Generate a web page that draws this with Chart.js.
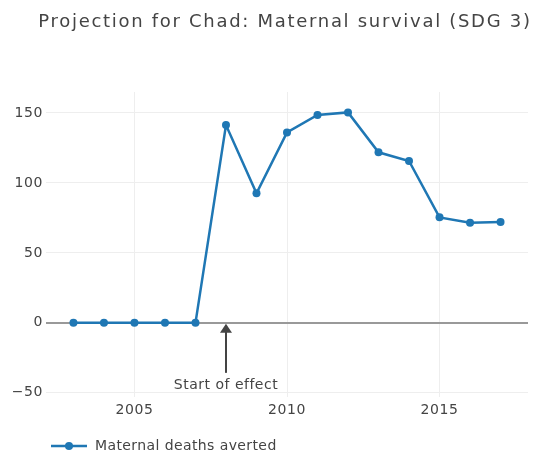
<!DOCTYPE html>
<html>
<head>
<meta charset="utf-8">
<script src="https://cdn.jsdelivr.net/npm/chart.js@4"></script>
<style>
  html, body { margin: 0; padding: 0; background: #fff; }
  #wrap { width: 537px; height: 456px; position: relative; }
</style>
</head>
<body>
<div id="wrap"><canvas id="chart"></canvas></div>
<script>
// Chart data
const years = [2003, 2004, 2005, 2006, 2007, 2008, 2009, 2010, 2011, 2012, 2013, 2014, 2015, 2016, 2017];
const deathsAverted = [0, 0, 0, 0, 0, 141.4, 92.6, 136.1, 148.6, 150.4, 121.9, 115.7, 75.4, 71.6, 72.1];
const xTicks = [2005, 2010, 2015];
const yTicks = [-50, 0, 50, 100, 150];

const titleText = 'Projection for Chad: Maternal survival (SDG 3)';
const seriesLabel = 'Maternal deaths averted';
const annotationYear = 2008;
const annotationText = 'Start of effect';

const FONT = '"DejaVu Sans", Verdana, sans-serif';
const TEXT = '#444';
const BLUE = '#1f77b4';

// wider letter spacing, closer to the Verdana look of the original
const spacingPlugin = {
    id: 'spacing',
    beforeDraw(chart) {
        chart.ctx.letterSpacing = '0.6px';
    }
};

// title, annotation arrow and legend drawn on top of the chart
const extrasPlugin = {
    id: 'extras',
    afterDraw(chart) {
        const ctx = chart.ctx;
        const xs = chart.scales.x;
        const ys = chart.scales.y;
        ctx.save();

        // title
        ctx.fillStyle = TEXT;
        ctx.font = '18px ' + FONT;
        ctx.letterSpacing = '1.7px';
        ctx.textAlign = 'center';
        ctx.textBaseline = 'middle';
        ctx.fillText(titleText, 285, 22);

        // annotation arrow
        const ax = xs.getPixelForValue(annotationYear);
        const ay = ys.getPixelForValue(0) + 1;
        ctx.strokeStyle = TEXT;
        ctx.fillStyle = TEXT;
        ctx.lineWidth = 2;
        ctx.beginPath();
        ctx.moveTo(ax, ay + 49);
        ctx.lineTo(ax, ay + 7);
        ctx.stroke();
        ctx.beginPath();
        ctx.moveTo(ax, ay);
        ctx.lineTo(ax - 6, ay + 9);
        ctx.lineTo(ax + 6, ay + 9);
        ctx.closePath();
        ctx.fill();
        ctx.font = '14px ' + FONT;
        ctx.letterSpacing = '0.5px';
        ctx.fillText(annotationText, ax, ay + 62);

        // legend
        const ly = 446;
        ctx.strokeStyle = BLUE;
        ctx.fillStyle = BLUE;
        ctx.lineWidth = 2.5;
        ctx.beginPath();
        ctx.moveTo(51, ly);
        ctx.lineTo(87, ly);
        ctx.stroke();
        ctx.beginPath();
        ctx.arc(69, ly, 4, 0, Math.PI * 2);
        ctx.fill();
        ctx.fillStyle = TEXT;
        ctx.font = '14px ' + FONT;
        ctx.letterSpacing = '0.4px';
        ctx.textAlign = 'left';
        ctx.fillText(seriesLabel, 95, ly);

        ctx.restore();
    }
};

new Chart(document.getElementById('chart'), {
    type: 'line',
    data: {
        labels: years,
        datasets: [{
            label: seriesLabel,
            data: years.map((y, i) => ({ x: y, y: deathsAverted[i] })),
            borderColor: BLUE,
            backgroundColor: BLUE,
            borderWidth: 2.5,
            pointRadius: 4,
            pointBorderWidth: 0,
            pointHoverRadius: 4,
            tension: 0
        }]
    },
    options: {
        responsive: true,
        maintainAspectRatio: false,
        animation: false,
        layout: { padding: { top: 92, right: 9, bottom: 0, left: 0 } },
        plugins: {
            legend: { display: false },
            title: { display: false },
            tooltip: { enabled: false }
        },
        scales: {
            x: {
                type: 'linear',
                min: 2002.1,
                max: 2017.9,
                afterBuildTicks: axis => { axis.ticks = xTicks.map(v => ({ value: v })); },
                afterFit: axis => { axis.height = 59; },
                border: { display: false },
                grid: { color: '#eeeeee', lineWidth: 1, drawTicks: false },
                ticks: {
                    color: TEXT,
                    font: { family: FONT, size: 14 },
                    padding: 5,
                    maxRotation: 0,
                    callback: v => String(v)
                }
            },
            y: {
                min: -53,
                max: 165,
                afterBuildTicks: axis => { axis.ticks = yTicks.map(v => ({ value: v })); },
                afterFit: axis => { axis.width = 46; },
                border: { display: false },
                grid: {
                    drawTicks: false,
                    color: c => c.tick && c.tick.value === 0 ? '#999999' : '#eeeeee',
                    lineWidth: c => c.tick && c.tick.value === 0 ? 2 : 1
                },
                ticks: {
                    color: TEXT,
                    font: { family: FONT, size: 14 },
                    padding: 3,
                    callback: v => v < 0 ? '\u2212' + Math.abs(v) : String(v)
                }
            }
        }
    },
    plugins: [spacingPlugin, extrasPlugin]
});
</script>
</body>
</html>
